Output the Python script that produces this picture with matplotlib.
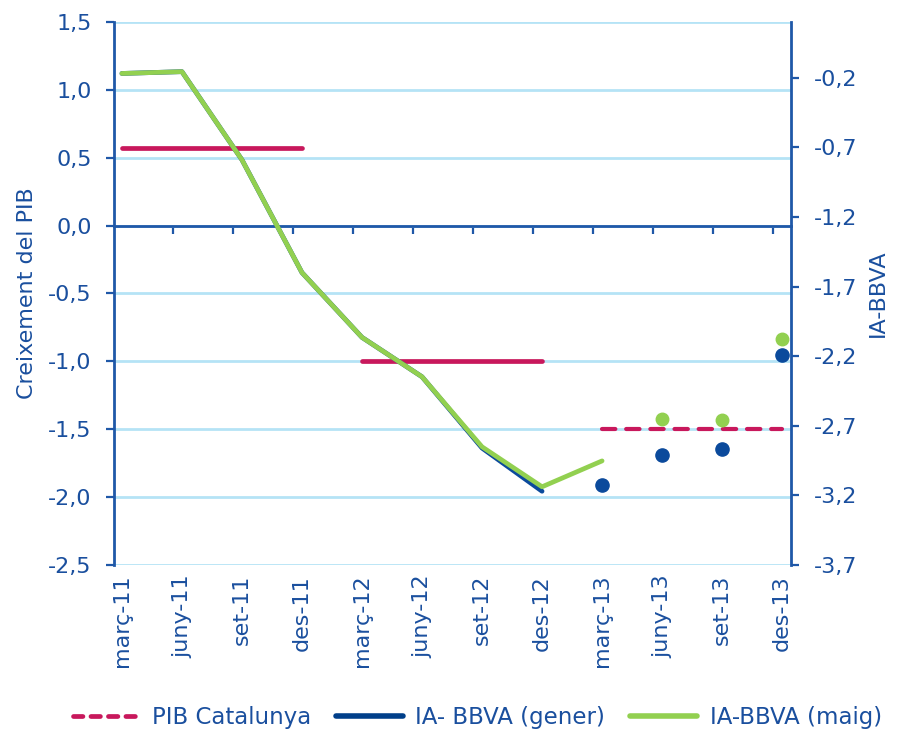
import numpy as np
import matplotlib
matplotlib.use("Agg")
import matplotlib.pyplot as plt
from matplotlib.transforms import offset_copy
from matplotlib.ticker import FuncFormatter


trimestres = ["març-11", "juny-11", "set-11", "des-11",
              "març-12", "juny-12", "set-12", "des-12",
              "març-13", "juny-13", "set-13", "des-13"]

# PIB Catalunya, one value per year (left axis)
pib_anual = [0.57, -1.0, -1.5]
pib_dashed = [False, False, True]

# IA-BBVA (right axis)
ia_gener = [-0.17, -0.157, -0.79, -1.60, -2.065, -2.348, -2.86, -3.17,
            -3.126, -2.911, -2.868, -2.195]
ia_maig = [-0.17, -0.157, -0.79, -1.60, -2.065, -2.348, -2.851, -3.138,
           -2.952, -2.652, -2.659, -2.080]
gener_n_linia = 8   # points joined by a line, the rest are single dots
maig_n_linia = 9

c_text = "#1a4f9e"
c_axis = "#1f58a8"
c_grid = "#b5e3f6"
c_pib = "#c8185c"
c_gener = "#0b4a9c"
c_maig = "#92d050"

plt.rcParams["font.family"] = ["DejaVu Sans"]

fig = plt.figure(figsize=(8.97, 7.31), dpi=100)
ax = fig.add_axes([0.127, 0.227, 0.755, 0.743])
ax2 = ax.twinx()

x = np.arange(len(trimestres))

# grid
ax.set_ylim(-2.5, 1.5)
ax.set_yticks(np.arange(-2.5, 1.51, 0.5))
ax.yaxis.grid(True, color=c_grid, lw=2)
ax.set_axisbelow(True)
ax.set_xlim(-0.133, 11.15)

# PIB
for k, val in enumerate(pib_anual):
    xs = x[4 * k:4 * k + 4]
    ys = [val] * len(xs)
    if pib_dashed[k]:
        ax.plot(xs, ys, color=c_pib, lw=3, dashes=(3.2, 2.6),
                dash_capstyle="round", zorder=3)
    else:
        ax.plot(xs, ys, color=c_pib, lw=3.4, solid_capstyle="round", zorder=3)

# IA-BBVA
ax2.set_ylim(-3.7, 0.2)
ax2.set_yticks(np.arange(-3.7, 0.0, 0.5))
ax2.plot(x[:gener_n_linia], ia_gener[:gener_n_linia], color=c_gener, lw=3.4,
         solid_capstyle="round", zorder=3)
ax2.plot(x[gener_n_linia:], ia_gener[gener_n_linia:], "o", color=c_gener,
         ms=9.5, zorder=3)
ax2.plot(x[:maig_n_linia], ia_maig[:maig_n_linia], color=c_maig, lw=3.4,
         solid_capstyle="round", zorder=4)
ax2.plot(x[maig_n_linia:], ia_maig[maig_n_linia:], "o", color=c_maig,
         ms=9, zorder=2)

# axes styling
fmt = FuncFormatter(lambda v, p: f"{v:.1f}".replace(".", ","))
for a in (ax, ax2):
    for s in a.spines.values():
        s.set_visible(False)
    a.yaxis.set_major_formatter(fmt)
    a.tick_params(axis="y", colors=c_axis, labelcolor=c_text, labelsize=16,
                  length=6, width=1.6, pad=10)

ax.spines["left"].set_visible(True)
ax.spines["left"].set_color(c_axis)
ax.spines["left"].set_linewidth(2)
ax2.spines["right"].set_visible(True)
ax2.spines["right"].set_color(c_axis)
ax2.spines["right"].set_linewidth(2)

# category axis crosses at zero
ax.spines["bottom"].set_visible(True)
ax.spines["bottom"].set_position(("data", 0))
ax.spines["bottom"].set_color(c_axis)
ax.spines["bottom"].set_linewidth(2)
ax.set_xticks(x[:-1] + 0.85)
ax.set_xticklabels([])
ax.tick_params(axis="x", colors=c_axis, length=6, width=1.6, direction="out")

# category labels at the bottom
trans = offset_copy(ax.get_xaxis_transform(), fig=fig, x=0, y=-7, units="points")
for xi, lab in zip(x, trimestres):
    ax.text(xi, 0, lab, transform=trans, rotation=90, ha="center", va="top",
            fontsize=16, color=c_text)

ax.set_ylabel("Creixement del PIB", fontsize=16, color=c_text, labelpad=8)
ax2.set_ylabel("IA-BBVA", fontsize=16, color=c_text, labelpad=8)

# legend
h_pib, = ax.plot([], [], color=c_pib, lw=3.4, dashes=(2.0, 1.7),
                 dash_capstyle="round")
h_gen, = ax.plot([], [], color="#003f8a", lw=4, solid_capstyle="round")
h_mai, = ax.plot([], [], color=c_maig, lw=4, solid_capstyle="round")
fig.legend([h_pib, h_gen, h_mai],
           ["PIB Catalunya", "IA- BBVA (gener)", "IA-BBVA (maig)"],
           loc="center", bbox_to_anchor=(0.532, 0.018), ncol=3, frameon=False,
           handlelength=2.9, columnspacing=1.1, handletextpad=0.55,
           borderpad=0.2, prop={"size": 16.5}, labelcolor=c_text)

fig.savefig("out.png", dpi=100)
